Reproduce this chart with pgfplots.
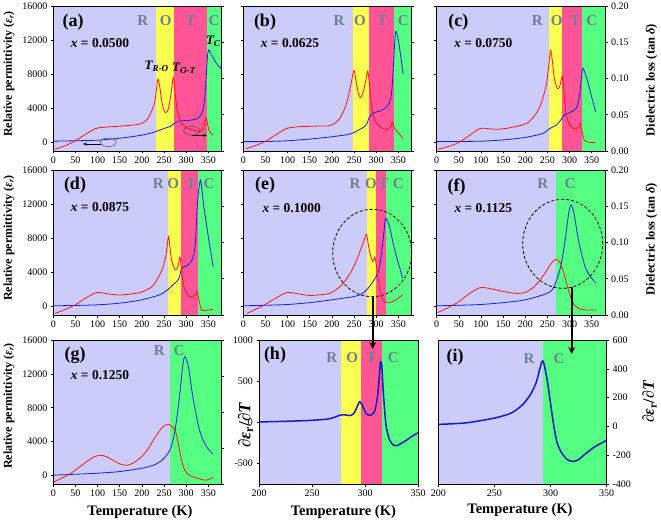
\documentclass[border=0pt]{standalone}
\usepackage{fontspec}
\setmainfont{Liberation Serif}
\usepackage{pgfplots}
\pgfplotsset{compat=1.18}
\usetikzlibrary{arrows.meta}
\definecolor{lav}{RGB}{204,204,250}
\definecolor{yel}{RGB}{250,255,80}
\definecolor{pnk}{RGB}{255,85,150}
\definecolor{grn}{RGB}{85,255,130}
\definecolor{phs}{RGB}{112,128,144}
\definecolor{cblue}{RGB}{20,30,230}
\definecolor{cred}{RGB}{255,20,20}
\definecolor{dblue}{RGB}{25,25,190}
\pgfplotsset{
 pbase/.style={scale only axis, anchor=south west,
   tick align=outside, major tick length=2.5pt,
   every tick/.style={black, line width=0.6pt},
   axis line style={line width=0.7pt},
   tick label style={font=\fontsize{10}{10}\selectfont},
   /pgf/number format/assume math mode=true,
   /pgf/number format/1000 sep={},
   scaled ticks=false},
 epsax/.style={pbase, width=168.3pt, xmin=0, xmax=380, ymin=-1000, ymax=16000,
   ytick={0,4000,8000,12000,16000}, xtick={0,50,...,350},
   xtick pos=left, ytick pos=left, axis on top},
 tanax/.style={pbase, width=168.3pt, xmin=0, xmax=380, ymin=0, ymax=0.2, hide x axis,
   ytick={0,0.05,0.1,0.15,0.2}, ytick pos=right, yticklabel pos=right,
   yticklabel style={/pgf/number format/fixed, /pgf/number format/fixed zerofill, /pgf/number format/precision=2}},
 bl/.style={cblue, line width=0.8pt, smooth, tension=0.5, no markers},
 rd/.style={cred, line width=0.8pt, smooth, tension=0.5, no markers},
 dv/.style={dblue, line width=1.5pt, smooth, tension=0.5, no markers},
}
\newcommand{\bgfour}[3]{%
 \fill[lav] (axis cs:0,-1000) rectangle (axis cs:#1,16000);
 \fill[yel] (axis cs:#1,-1000) rectangle (axis cs:#2,16000);
 \fill[pnk] (axis cs:#2,-1000) rectangle (axis cs:#3,16000);
 \fill[grn] (axis cs:#3,-1000) rectangle (axis cs:380,16000);}
\newcommand{\bgtwo}[1]{%
 \fill[lav] (axis cs:0,-1000) rectangle (axis cs:#1,16000);
 \fill[grn] (axis cs:#1,-1000) rectangle (axis cs:380,16000);}
\newcommand{\fs}[1]{\fontsize{#1}{#1}\selectfont}
\begin{document}
\begin{tikzpicture}
\path[use as bounding box] (0pt,0pt) rectangle (661pt,-521pt);
% ---------- (a)
\begin{axis}[epsax, at={(53.3pt,-151pt)}, height=145pt]
\bgfour{232}{272}{346}
\addplot[bl] coordinates {(0,150) (50,200) (100,270) (150,500) (200,860) (230,1250) (250,1640) (265,1900) (272,2200) (280,2460) (290,2540) (310,2620) (325,2800) (335,3400) (341,4800) (345,7500) (348,10000) (351,10850) (358,10200) (368,9300) (378,8700)};
\end{axis}
\begin{axis}[tanax, at={(53.3pt,-151pt)}, height=145pt, yticklabels={}]
\addplot[rd] coordinates {(3,0.0023) (25,0.007) (47,0.013) (70,0.022) (96,0.031) (120,0.033) (145,0.034) (175,0.0355) (194,0.037) (205,0.040) (214,0.045) (222,0.055) (228,0.065) (232,0.08) (236,0.099) (240,0.090) (245,0.068) (250,0.056) (254,0.053) (260,0.058) (266,0.080) (271,0.101) (275,0.08) (280,0.055) (286,0.043) (293,0.036) (301,0.032) (315,0.029) (331,0.027) (338,0.030) (342,0.038) (345,0.046) (348,0.038) (352,0.028) (360,0.022)};
\end{axis}
% ---------- (b)
\begin{axis}[epsax, at={(243.3pt,-151pt)}, height=145pt, yticklabels={}]
\bgfour{248}{283}{341}
\addplot[bl] coordinates {(0,100) (50,110) (100,200) (150,400) (200,670) (240,980) (260,1450) (275,1900) (280,2300) (285,3000) (295,3500) (310,3700) (325,4260) (332,5000) (336,6500) (340,10000) (344,13000) (350,12000) (355,10300) (361,8000)};
\end{axis}
\begin{axis}[tanax, at={(243.3pt,-151pt)}, height=145pt, yticklabels={}]
\addplot[rd] coordinates {(6,0.003) (25,0.007) (49,0.013) (75,0.023) (98,0.031) (125,0.0335) (147,0.034) (175,0.0345) (196,0.035) (210,0.040) (218,0.045) (230,0.060) (237,0.075) (244,0.095) (250,0.111) (255,0.095) (260,0.079) (265,0.074) (270,0.080) (276,0.095) (281,0.110) (285,0.090) (290,0.061) (295,0.046) (301,0.038) (312,0.032) (324,0.029) (332,0.033) (337,0.040) (341,0.032) (346,0.028) (361,0.017)};
\end{axis}
% ---------- (c)
\begin{axis}[epsax, at={(436.7pt,-151pt)}, height=145pt, yticklabels={}]
\bgfour{254}{284}{327}
\addplot[bl] coordinates {(0,100) (50,120) (100,150) (150,300) (200,590) (240,1060) (255,1640) (270,2030) (280,2620) (288,3200) (300,3480) (315,4000) (322,5360) (328,8100) (331,8690) (340,7300) (350,5300) (359,3600)};
\end{axis}
\begin{axis}[tanax, at={(436.7pt,-151pt)}, height=145pt]
\addplot[rd] coordinates {(2,0.0023) (25,0.006) (49,0.0115) (75,0.022) (98,0.031) (120,0.0305) (135,0.030) (155,0.031) (173,0.033) (203,0.038) (220,0.048) (233,0.061) (242,0.078) (248,0.093) (253,0.118) (257,0.139) (261,0.125) (265,0.1025) (270,0.090) (273,0.086) (277,0.088) (281,0.097) (284,0.103) (287,0.085) (290,0.060) (293,0.047) (300,0.037) (308,0.031) (316,0.031) (321,0.034) (324,0.038) (328,0.028) (333,0.015) (345,0.012) (359,0.0115)};
\end{axis}
% ---------- (d)
\begin{axis}[epsax, at={(53.3pt,-315pt)}, height=145pt]
\bgfour{258}{288}{327}
\addplot[bl] coordinates {(0,80) (50,120) (100,195) (150,390) (200,780) (240,1370) (258,1950) (270,2540) (282,3120) (287,3900) (290,4490) (305,4880) (315,5660) (320,7000) (322,8580) (326,12480) (332,14830) (336,13500) (340,11700) (350,8200) (361,4680)};
\end{axis}
\begin{axis}[tanax, at={(53.3pt,-315pt)}, height=145pt, yticklabels={}]
\addplot[rd] coordinates {(4,0.0023) (25,0.007) (49,0.0138) (75,0.024) (98,0.031) (125,0.029) (150,0.0276) (175,0.029) (196,0.031) (215,0.036) (226,0.041) (240,0.055) (248,0.067) (255,0.085) (260,0.108) (264,0.090) (267,0.076) (272,0.066) (277,0.062) (282,0.068) (286,0.080) (290,0.060) (295,0.039) (301,0.030) (308,0.025) (315,0.025) (321,0.028) (325,0.032) (329,0.020) (335,0.0069) (345,0.0065) (361,0.0078)};
\end{axis}
% ---------- (e)
\begin{axis}[epsax, at={(243.3pt,-315pt)}, height=145pt, yticklabels={}]
\bgfour{280}{299}{322}
\addplot[bl] coordinates {(0,80) (50,140) (100,234) (150,450) (200,780) (250,1170) (270,1560) (285,2340) (300,3510) (306,4300) (310,5460) (315,7410) (319,9500) (322,10340) (330,9360) (340,7020) (350,5100) (360,3320)};
\end{axis}
\begin{axis}[tanax, at={(243.3pt,-315pt)}, height=145pt, yticklabels={}]
\addplot[rd] coordinates {(8,0.002) (25,0.007) (45,0.013) (70,0.022) (98,0.031) (125,0.029) (150,0.027) (175,0.028) (196,0.030) (212,0.036) (226,0.044) (242,0.058) (256,0.076) (266,0.092) (272,0.102) (278,0.111) (282,0.098) (286,0.085) (292,0.074) (297,0.080) (301,0.065) (305,0.048) (312,0.025) (321,0.018) (331,0.017) (346,0.0216) (360,0.028)};
\end{axis}
% ---------- (f)
\begin{axis}[epsax, at={(436.7pt,-315pt)}, height=145pt, yticklabels={}]
\bgtwo{269}
\addplot[bl] coordinates {(0,80) (50,140) (100,234) (150,450) (200,780) (250,1560) (265,2340) (280,4680) (290,7800) (298,10920) (303,11900) (310,10920) (320,7800) (335,4680) (350,3300) (360,2730)};
\end{axis}
\begin{axis}[tanax, at={(436.7pt,-315pt)}, height=145pt]
\addplot[rd] coordinates {(2,0.0032) (25,0.010) (49,0.018) (75,0.030) (98,0.0377) (115,0.037) (135,0.0345) (155,0.032) (173,0.030) (190,0.030) (203,0.032) (220,0.039) (233,0.048) (245,0.058) (256,0.069) (264,0.075) (269,0.077) (275,0.075) (280,0.071) (287,0.058) (293,0.044) (299,0.031) (305,0.0207) (312,0.013) (320,0.0092) (335,0.007) (361,0.0069)};
\end{axis}
% ---------- (g)
\begin{axis}[epsax, at={(53.3pt,-484pt)}, height=144pt]
\bgtwo{263}
\addplot[bl] coordinates {(0,40) (50,150) (100,275) (150,470) (200,865) (230,1300) (250,2040) (265,3220) (275,5390) (285,9320) (292,12850) (297,14030) (305,12850) (315,9320) (330,5390) (345,3500) (360,2550)};
\end{axis}
\begin{axis}[tanax, at={(53.3pt,-484pt)}, height=144pt, yticklabels={}]
\addplot[rd] coordinates {(2,0.0032) (25,0.010) (45,0.017) (60,0.024) (75,0.031) (90,0.037) (105,0.040) (120,0.038) (135,0.033) (150,0.028) (166,0.026) (180,0.029) (196,0.036) (212,0.047) (226,0.061) (238,0.072) (248,0.080) (260,0.083) (268,0.080) (275,0.075) (280,0.063) (286,0.043) (291,0.030) (297,0.019) (305,0.013) (316,0.010) (339,0.0056) (350,0.006) (361,0.0093)};
\end{axis}
% ---------- (h)
\begin{axis}[pbase, at={(259pt,-484pt)}, width=159pt, height=144pt, xmin=200, xmax=350, ymin=-750, ymax=1000,
  xtick={200,250,300,350}, ytick={-500,0,500,1000}, xtick pos=left, ytick pos=left, axis on top]
\fill[lav] (axis cs:200,-750) rectangle (axis cs:277.7,1000);
\fill[yel] (axis cs:277.7,-750) rectangle (axis cs:296,1000);
\fill[pnk] (axis cs:296,-750) rectangle (axis cs:316.4,1000);
\fill[grn] (axis cs:316.4,-750) rectangle (axis cs:350,1000);
\addplot[dv] coordinates {(200,4) (225,12) (250,24) (265,40) (272,65) (276,85) (280,93) (285,82) (289,100) (292,170) (295,250) (298,190) (301,110) (304,85) (308,110) (310,180) (312,330) (313.5,560) (314.5,730) (315.8,690) (317,420) (318.5,150) (320,-48) (323,-210) (327,-280) (330,-285) (335,-250) (340,-210) (345,-165) (350,-128)};
\end{axis}
% ---------- (i)
\begin{axis}[pbase, at={(438.3pt,-484pt)}, width=168.3pt, height=144pt, xmin=200, xmax=350, ymin=-400, ymax=600,
  xtick={200,250,300,350}, ytick={-400,-200,0,200,400,600}, xtick pos=left, ytick pos=right, yticklabel pos=right, axis on top]
\fill[lav] (axis cs:200,-400) rectangle (axis cs:293.5,600);
\fill[grn] (axis cs:293.5,-400) rectangle (axis cs:350,600);
\addplot[dv] coordinates {(200,14) (225,25) (250,58) (265,93) (275,150) (282,220) (287,300) (290.5,400) (292.5,451) (294,440) (297,324) (300,162) (303,0) (306,-116) (310,-185) (315,-231) (320,-243) (325,-231) (330,-197) (340,-139) (350,-97)};
\end{axis}
% ---------- annotations
\begin{scope}[every node/.style={inner sep=0pt}]
\foreach \x/\y/\t in {73/21.7/a, 265/21.7/b, 458.3/21.7/c, 75/185/d, 265/185/e, 456.7/186.7/f, 75/355/g, 275/355/h, 455/356.7/i}
  \node[font=\fs{18}\bfseries] at (\x pt,-\y pt) {(\t)};
\foreach \x/\y/\t in {100/42.7/0.0500, 290/43.3/0.0625, 483.3/43.3/0.0750, 100/206.7/0.0875, 291.7/207.7/0.1000, 483.3/207.7/0.1125, 100/375/0.1250}
  \node[font=\fs{13.5}\bfseries] at (\x pt,-\y pt) {\textit{x} = \t};
\foreach \x/\y/\t in {142.7/20.7/R, 165.7/20.7/O, 190.7/20.7/T, 214/20.7/C,
   339/20.7/R, 360/20.7/O, 382.3/20.7/T, 403.3/20.7/C,
   537.3/20.7/R, 556.7/20.7/O, 575/20.7/T, 591.7/20.7/C,
   158.3/183.3/R, 173.3/183.3/O, 191/183.3/T, 209/183.3/C,
   355/183.3/R, 371/183.3/O, 383.3/183.3/T, 398.3/183.3/C,
   542.7/183.3/R, 570/183.3/C,
   159.3/350.7/R, 179/350.7/C,
   331.7/357.3/R, 352.3/357.3/O, 371.7/357.3/T, 393.3/357.3/C,
   529/358.3/R, 559/358.3/C}
  \node[font=\fs{15}\bfseries, text=phs] at (\x pt,-\y pt) {\t};
\node[font=\fs{13}\bfseries\itshape] at (156.7pt,-66.7pt) {T\textsubscript{R-O}};
\node[font=\fs{13}\bfseries\itshape] at (184pt,-68.3pt) {T\textsubscript{O-T}};
\node[font=\fs{13}\bfseries\itshape] at (213.3pt,-41.7pt) {T\textsubscript{C}};
\foreach \y in {74,238,406}
  \node[font=\fs{12}\bfseries, rotate=90] at (9pt,-\y pt) {Relative permittivity (\textit{ε}\textsubscript{\textit{r}})};
\foreach \y in {80,239}
  \node[font=\fs{12.5}\bfseries, rotate=90] at (651.7pt,-\y pt) {Dielectric loss (tan \textit{δ})};
\node[font=\fs{14.5}\bfseries] at (140pt,-511.7pt) {Temperature (K)};
\node[font=\fs{14.5}\bfseries] at (343.3pt,-511.7pt) {Temperature (K)};
\node[font=\fs{14.5}\bfseries] at (520pt,-510pt) {Temperature (K)};
\node[font=\fs{17}\bfseries, rotate=90] at (245.5pt,-425pt) {∂\textit{ε}\textsubscript{r}/∂\textit{T}};
\node[font=\fs{16}\bfseries, rotate=90] at (649.5pt,-401.7pt) {∂\textit{ε}\textsubscript{r}/∂\textit{T}};
\end{scope}
% circles, arrows
\draw[line width=0.5pt, black!70] (108.3pt,-142.3pt) ellipse [x radius=8pt, y radius=4.3pt];
\draw[line width=0.8pt, -{Stealth[length=4pt,width=3pt]}] (100.5pt,-144pt) -- (83pt,-144pt);
\draw[line width=0.5pt, black!70] (191.7pt,-130.7pt) ellipse [x radius=8pt, y radius=4.5pt];
\draw[line width=0.8pt, -{Stealth[length=4pt,width=3pt]}] (191.7pt,-135.3pt) -- (207pt,-135.3pt);
\draw[line width=0.8pt, dash pattern=on 3pt off 2pt] (372.2pt,-253pt) ellipse [x radius=39.5pt, y radius=43.7pt];
\draw[line width=0.8pt, dash pattern=on 3pt off 2pt] (562.7pt,-243.8pt) ellipse [x radius=40pt, y radius=44.5pt];
\draw[line width=1.8pt, -{Stealth[length=7pt,width=7pt]}] (372.7pt,-296.5pt) -- (372.7pt,-349pt);
\draw[line width=1.8pt, -{Stealth[length=7pt,width=7pt]}] (571.7pt,-287.5pt) -- (571.7pt,-354pt);
\end{tikzpicture}
\end{document}
